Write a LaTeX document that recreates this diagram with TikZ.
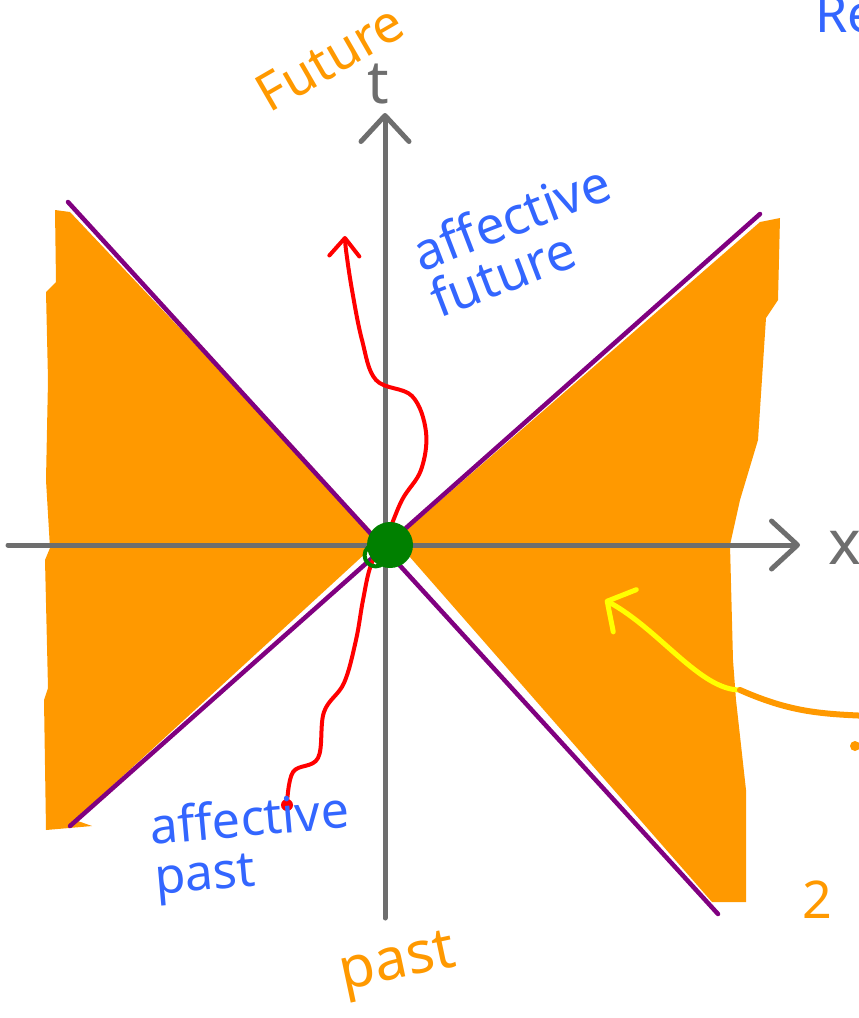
\documentclass[tikz,border=0pt]{standalone}
\usepackage{fontspec}
\setmainfont{Noto Sans}
\usepackage{tikz}
\usetikzlibrary{arrows.meta,positioning,calc}

\definecolor{cone}{HTML}{FF9900}
\definecolor{lightline}{HTML}{800080}
\definecolor{axisgray}{HTML}{6E6E6E}
\definecolor{inkblue}{HTML}{3366FF}
\definecolor{inkred}{HTML}{FF0000}
\definecolor{inkgreen}{HTML}{008000}
\definecolor{inkyellow}{HTML}{FFFF00}

\begin{document}
\begin{tikzpicture}[
    x=1pt, y=-1pt,
    axis/.style={draw=axisgray, line width=5pt, line cap=round, -{Straight Barb[length=26pt, width=48pt, round]}},
    lightcone/.style={draw=lightline, line width=4.5pt, line cap=round},
    label/.style={font=\fontsize{52}{50}\selectfont, inner sep=0pt},
    bluetext/.style={label, text=inkblue, align=left},
    orangetext/.style={label, text=cone},
    worldline/.style={draw=inkred, line width=4pt, line cap=round, line join=round}
]
\useasboundingbox (0,0) rectangle (859,1018);

% light cone regions (filled)
\fill[cone] (55,210) -- (70,212) -- (380,540) -- (75,820) -- (92,826) -- (46,830)
    -- (44,700) -- (48,688) -- (45,560) -- (50,548) -- (46,480) -- (48,380)
    -- (46,292) -- (56,282) -- cycle;
\fill[cone] (395,540) -- (760,222) -- (780,218) -- (778,300) -- (766,318)
    -- (758,440) -- (740,500) -- (730,545) -- (733,660) -- (736,700)
    -- (746,790) -- (746,902) -- (712,902) -- cycle;

% axes
\coordinate (xstart) at (8,545);
\coordinate (xend) at (800,545);
\coordinate (tstart) at (385,918);
\coordinate (tend) at (385,113);
\draw[axis] (xstart) -- (xend);
\draw[axis] (tstart) -- (tend);
\node[label, text=axisgray, font=\fontsize{62}{60}\selectfont] (xlabel) at (845,548) {x};
\node[label, text=axisgray, font=\fontsize{60}{60}\selectfont] (tlabel) at (378,84) {t};

% light lines
\coordinate (ul) at (68,202);
\coordinate (lr) at (718,914);
\coordinate (ll) at (70,826);
\coordinate (ur) at (760,214);
\draw[lightcone] (ul) -- (lr);
\draw[lightcone] (ll) -- (ur);

% world line through the event
\coordinate (pastend) at (287,805);
\coordinate (futureend) at (345,236);
\draw[worldline, -{Straight Barb[length=18pt, width=30pt, round]}]
    plot[smooth, tension=0.6] coordinates {(pastend) (293,772) (318,758) (324,712)
    (344,683) (356,640) (363,600) (371,565) (386,538) (402,500) (421,470)
    (426,432) (412,396) (376,380) (362,340) (352,290) (346,250) (futureend)};
\fill[inkred] (pastend) circle (6pt);

% event
\node[circle, fill=inkgreen, minimum size=46pt, inner sep=0pt] (event) at (390,545) {};
\draw[inkgreen, line width=4pt] (event.south west) ++(2,-6) circle (11pt);

% labels
\node[orangetext, rotate=30] (futurelabel) at (330,58) {Future};
\node[orangetext, rotate=12, font=\fontsize{58}{60}\selectfont] (pastlabel) at (398,966) {past};
\node[bluetext, rotate=21] (afffuture) at (520,240) {affective\\future};
\node[bluetext, rotate=5, font=\fontsize{50}{50}\selectfont] (affpast) at (252,848) {affective\\past};

% pointer into the spacelike region
\coordinate (pointtip) at (605,600);
\coordinate (pointfrom) at (740,690);
\draw[inkyellow, line width=5pt, line cap=round, -{Straight Barb[length=20pt, width=48pt, round]}]
    (pointfrom) .. controls (700,690) and (660,630) .. (pointtip);
\coordinate (noteend) at (870,716);
\draw[cone, line width=6pt, line cap=round] (pointfrom) .. controls (790,712) and (820,714) .. (noteend);
\fill[cone] (855,746) circle (5pt);

% cut-off notes at the edge
\node[bluetext, anchor=west] (topnote) at (815,14) {Re};
\node[orangetext, anchor=west] (sidenote) at (802,900) {2};
\end{tikzpicture}
\end{document}
